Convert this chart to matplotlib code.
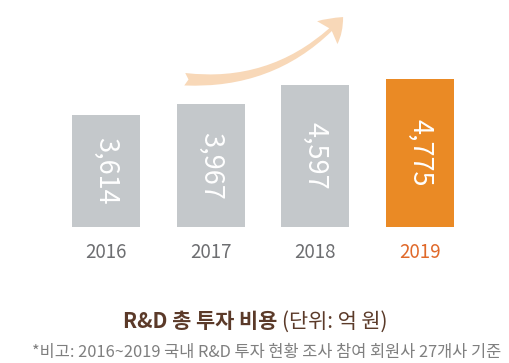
import matplotlib
matplotlib.use("Agg")
import matplotlib.pyplot as plt
from matplotlib.patches import FancyArrowPatch

plt.rcParams['font.family'] = ['Noto Sans CJK KR', 'DejaVu Sans']

# ── Data ──────────────────────────────────────────────────────────────────────
years = ["2016", "2017", "2018", "2019"]
values = [3614, 3967, 4597, 4775]
bar_colors = ["#c4c8cb", "#c4c8cb", "#c4c8cb", "#ea8a25"]
year_colors = ["#6d6e71", "#6d6e71", "#6d6e71", "#e0692a"]

W, H = 510, 363
fig = plt.figure(figsize=(W / 100, H / 100), dpi=100)

# axes: baseline at y=227px, bars centred at 106px with 104.7px spacing
base = 227
ax = fig.add_axes([0, (H - base) / H, 1, base / H])
step = 104.67
ax.set_xlim(-106 / step, (W - 106) / step)
ax.set_ylim(0, base * 32.3)
ax.axis("off")

x = list(range(len(years)))
ax.bar(x, values, width=0.65, color=bar_colors, zorder=2)

for i, v in enumerate(values):
    ax.text(i, v / 2, f"{v:,}", rotation=270, ha="center", va="center",
            color="white", fontsize=19.5, fontweight="light", zorder=3)
    ax.text(i, -25 * 32.3, years[i], ha="center", va="center",
            color=year_colors[i], fontsize=13.5, clip_on=False)

# rising arrow
arrow = FancyArrowPatch((0.726, 4780), (2.283, 6848),
                        connectionstyle="arc3,rad=0.25",
                        arrowstyle="fancy,head_length=16,head_width=22,tail_width=9",
                        color="#f8d8b8", lw=0, zorder=1, clip_on=False)
ax.add_patch(arrow)

# titles
fig.text(277 / W, 1 - 322 / H, "R&D 총 투자 비용", ha="right", va="center",
         fontsize=15, fontweight="bold", color="#5b3a29")
fig.text(282 / W, 1 - 322 / H, "(단위: 억 원)", ha="left", va="center",
         fontsize=15, color="#5b3a29")
fig.text(267 / W, 1 - 353 / H,
         "*비고: 2016~2019 국내 R&D 투자 현황 조사 참여 회원사 27개사 기준",
         ha="center", va="center", fontsize=11.8, color="#7f7f7f")

plt.savefig("out.png", dpi=100)
plt.close()
